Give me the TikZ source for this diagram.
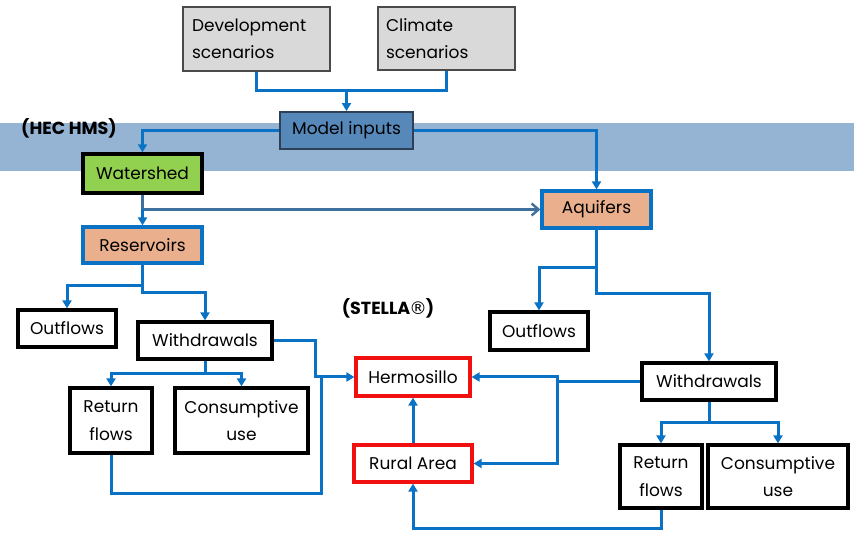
\documentclass[tikz,border=0pt]{standalone}
\usepackage{fontspec}
\setmainfont{Poppins}
\newfontfamily\symfont{DejaVu Sans}
\usetikzlibrary{arrows.meta}
\definecolor{bandc}{HTML}{95B3D3}
\definecolor{lineb}{HTML}{0A72C4}
\definecolor{darkl}{HTML}{3F6F9C}
\definecolor{grayf}{HTML}{D9D9D9}
\definecolor{grayd}{HTML}{4A4A4A}
\definecolor{modelf}{HTML}{5688BA}
\definecolor{modeld}{HTML}{2F3F55}
\definecolor{greenf}{HTML}{92D050}
\definecolor{peachf}{HTML}{EAB08E}
\definecolor{redb}{HTML}{F01010}
\tikzset{
  base/.style={rectangle, inner sep=0pt, font=\fontsize{17}{27.5}\selectfont, align=center},
  graybox/.style={base, fill=grayf, draw=grayd, line width=2pt, align=left},
  modelbox/.style={base, fill=modelf, draw=modeld, line width=1.8pt},
  greenbox/.style={base, fill=greenf, draw=black, line width=3.4pt},
  peachbox/.style={base, fill=peachf, draw=lineb, line width=3.2pt},
  blackbox/.style={base, fill=white, draw=black, line width=3.2pt},
  redbox/.style={base, fill=white, draw=redb, line width=3.2pt},
  conn/.style={draw=lineb, line width=3pt},
  arr/.style={conn, -{Triangle[length=8pt,width=9pt]}},
  darkarr/.style={draw=darkl, line width=2.4pt, -{Straight Barb[length=7pt,width=12pt,line width=2.4pt]}},
  lab/.style={font=\bfseries\fontsize{17.5}{20}\selectfont, inner sep=0pt},
}
\begin{document}
\begin{tikzpicture}[x=1pt,y=-1pt]
\useasboundingbox (0,0) rectangle (854,534);
\fill[bandc] (0,123) rectangle (854,171);
% nodes
\node[graybox, minimum width=147, minimum height=64, text width=129] (dev) at (256.5,39) {Development\\scenarios};
\node[graybox, minimum width=137, minimum height=63, text width=121] (clim) at (446.5,38.5) {Climate\\scenarios};
\node[modelbox, minimum width=133, minimum height=37] (model) at (346.5,130.5) {Model inputs};
\node[greenbox, minimum width=119, minimum height=39] (wat) at (142.5,173.5) {Watershed};
\node[peachbox, minimum width=109, minimum height=37] (aqu) at (596.5,209.5) {Aquifers};
\node[peachbox, minimum width=119, minimum height=36] (res) at (142.5,245) {Reservoirs};
\node[blackbox, minimum width=98, minimum height=37] (outl) at (67,328.5) {Outflows};
\node[blackbox, minimum width=134, minimum height=37] (withl) at (205,340.5) {Withdrawals};
\node[blackbox, minimum width=82, minimum height=65] (retl) at (111,420.5) {Return\\flows};
\node[blackbox, minimum width=133, minimum height=65] (consl) at (241.5,420.5) {Consumptive\\use};
\node[redbox, minimum width=114, minimum height=38] (herm) at (413,377) {Hermosillo};
\node[redbox, minimum width=118, minimum height=37] (rural) at (413,463.5) {Rural Area};
\node[blackbox, minimum width=98, minimum height=38] (outr) at (539,331) {Outflows};
\node[blackbox, minimum width=134, minimum height=37] (withr) at (709,381.5) {Withdrawals};
\node[blackbox, minimum width=82, minimum height=63] (retr) at (661,476.5) {Return\\flows};
\node[blackbox, minimum width=140, minimum height=63] (consr) at (778,476.5) {Consumptive\\use};
\node[lab] (hec) at (69,128) {(HEC HMS)};
\node[lab] (stella) at (388,308) {(STELLA\kern-1pt{\symfont\mdseries ®}\kern-1pt)};
% junctions
\coordinate (j1) at (346.5,91);
\coordinate (j2) at (142.5,209.5);
\coordinate (j3) at (142.5,286);
\coordinate (j4) at (142.5,293);
\coordinate (j5) at (205,374);
\coordinate (j6) at (315,377);
\coordinate (j7) at (321,493);
\coordinate (j8) at (596.5,268);
\coordinate (j9) at (596.5,294);
\coordinate (j10) at (557,381.5);
\coordinate (j11) at (709,422);
\coordinate (j12) at (661,528);
% connectors
\draw[conn] (dev.south) |- (j1);
\draw[conn] (clim.south) |- (j1);
\draw[arr] (j1) -- (model.north);
\draw[arr] (model.west) -| (wat.north);
\draw[arr] (model.east) -| (aqu.north);
\draw[darkarr] (wat.south) -- (j2) -- (aqu.west);
\draw[arr] (j2) -- (res.north);
\draw[arr] (res.south) -- (j3) -| (outl.north);
\draw[arr] (j3) -- (j4) -| (withl.north);
\draw[conn] (withl.south) -- (j5);
\draw[arr] (j5) -| (retl.north);
\draw[arr] (j5) -| (consl.north);
\draw[arr] (withl.east) -| (j6) -- (herm.west);
\draw[conn] (retl.south) |- (j7) -- (j7 |- herm.west);
\draw[arr] (rural.north) -- (herm.south);
\draw[conn] (aqu.south) -- (j8);
\draw[arr] (j8) -| (outr.north);
\draw[arr] (j8) -- (j9) -| (withr.north);
\draw[conn] (withr.west) -- (j10);
\draw[arr] (j10) |- (herm.east);
\draw[arr] (j10) |- (rural.east);
\draw[conn] (withr.south) -- (j11);
\draw[arr] (j11) -| (retr.north);
\draw[arr] (j11) -| (consr.north);
\draw[arr] (retr.south) |- (j12) -| (rural.south);
\end{tikzpicture}
\end{document}
